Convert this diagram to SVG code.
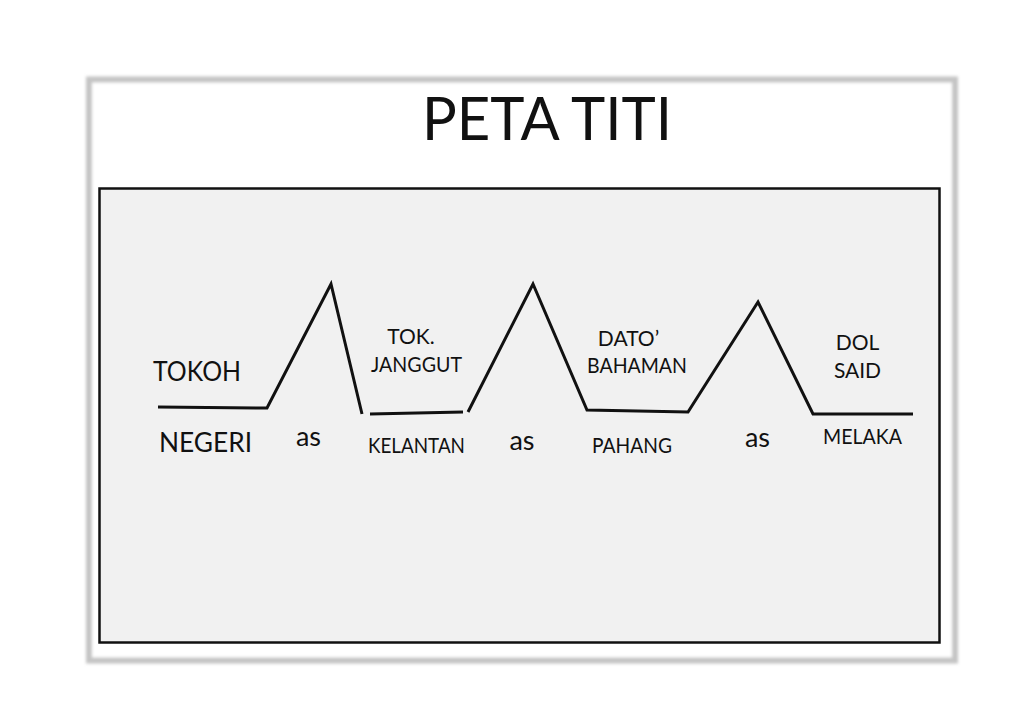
<svg xmlns="http://www.w3.org/2000/svg" width="1024" height="725" viewBox="0 0 1024 725">
<defs>
<filter id="blur" x="-5%" y="-5%" width="110%" height="110%"><feGaussianBlur stdDeviation="1.5"/></filter>
</defs>
<style>
.t{font-family:Lato,"Liberation Sans",sans-serif;fill:#111;text-anchor:middle}
.s{font-size:21px}
.m{font-size:26px}
.ln{fill:none;stroke:#111;stroke-width:3;stroke-linejoin:miter;stroke-linecap:butt}
</style>
<rect width="1024" height="725" fill="#fff"/>
<g id="frame">
<rect x="89" y="79.5" width="866" height="581" fill="#fff" stroke="#c4c4c4" stroke-width="6" filter="url(#blur)"/>
<rect x="99.5" y="188.5" width="840" height="454" fill="#f1f1f1" stroke="#111" stroke-width="2.5"/>
</g>
<g id="title"><text class="t" x="547" y="140" font-size="60" textLength="250" lengthAdjust="spacingAndGlyphs">PETA TITI</text></g>
<g id="connectors">
<polyline class="ln" points="158,407 267,408 331,284 362,414"/>
<polyline class="ln" points="370,414 463,412"/>
<polyline class="ln" points="468,412 533,284 587,410 688,412 758,302 813,414 913,414"/>
</g>
<g id="labels-left">
<text class="t m" x="197" y="381" textLength="88" lengthAdjust="spacingAndGlyphs">TOKOH</text>
<text class="t m" x="205.5" y="452" textLength="93" lengthAdjust="spacingAndGlyphs">NEGERI</text>
</g>
<g id="node-kelantan">
<text class="t s" x="411" y="344">TOK.</text>
<text class="t s" x="416.5" y="372" textLength="91" lengthAdjust="spacingAndGlyphs">JANGGUT</text>
<text class="t s" x="416.5" y="453" textLength="97" lengthAdjust="spacingAndGlyphs">KELANTAN</text>
</g>
<g id="node-pahang">
<text class="t s" x="628.5" y="346">DATO’</text>
<text class="t s" x="637" y="373" textLength="100" lengthAdjust="spacingAndGlyphs">BAHAMAN</text>
<text class="t s" x="632" y="453" textLength="80" lengthAdjust="spacingAndGlyphs">PAHANG</text>
</g>
<g id="node-melaka">
<text class="t s" x="857.5" y="350">DOL</text>
<text class="t s" x="857.5" y="378">SAID</text>
<text class="t s" x="862.5" y="444" textLength="79" lengthAdjust="spacingAndGlyphs">MELAKA</text>
</g>
<g id="as-labels">
<text class="t" font-size="27" x="308.5" y="446">as</text>
<text class="t" font-size="27" x="522" y="450">as</text>
<text class="t" font-size="27" x="757.5" y="447">as</text>
</g>
</svg>
